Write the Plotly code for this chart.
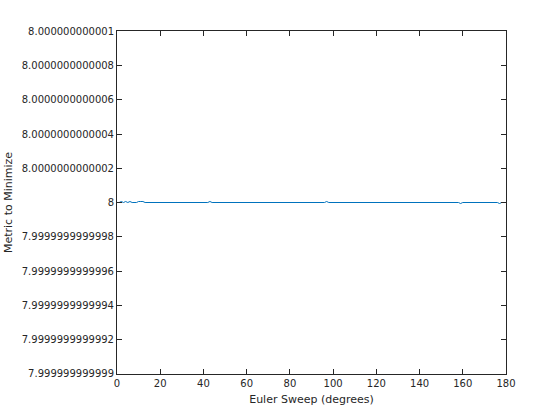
import plotly.graph_objects as go

# Sparse breakpoints of the sweep (degrees) and the metric value at each
sweep_deg = [0, 1, 2, 3, 4, 5, 6, 7, 9, 10, 11, 12, 13, 42, 43, 44, 96, 97, 98,
             158, 159, 160, 176, 177, 178, 180]
metric = [8.0, 8.0, 8.000000000000005, 8.0, 8.000000000000005, 8.0,
          8.000000000000005, 8.0, 8.0, 8.000000000000005, 8.000000000000005,
          8.000000000000005, 8.0, 8.0, 8.000000000000005, 8.0, 8.0,
          8.000000000000005, 8.0, 8.0, 7.999999999999995, 8.0, 8.0,
          7.999999999999995, 8.0, 8.0]

x_ticks = [0, 20, 40, 60, 80, 100, 120, 140, 160, 180]
y_tickvals = [7.999999999999, 7.9999999999992, 7.9999999999994, 7.9999999999996,
              7.9999999999998, 8.0, 8.0000000000002, 8.0000000000004,
              8.0000000000006, 8.0000000000008, 8.000000000001]
y_ticktext = ["7.999999999999", "7.9999999999992", "7.9999999999994",
              "7.9999999999996", "7.9999999999998", "8", "8.0000000000002",
              "8.0000000000004", "8.0000000000006", "8.0000000000008",
              "8.000000000001"]
y_range = [7.999999999998998, 8.000000000001002]

ink = "#262626"
font = dict(family="DejaVu Sans", size=10, color=ink)

fig = go.Figure(go.Scatter(x=sweep_deg, y=metric, mode="lines",
                           line=dict(color="#0072BD", width=1)))

fig.update_layout(
    width=560, height=420,
    margin=dict(l=117, r=54, t=31, b=46),
    paper_bgcolor="white", plot_bgcolor="white",
    showlegend=False, font=font,
)
fig.update_xaxes(
    range=[0, 180], tickvals=x_ticks, ticks="inside", ticklen=5,
    tickcolor=ink, showline=True, linecolor=ink, linewidth=1, mirror="ticks",
    showgrid=False, zeroline=False, tickfont=font, automargin=False,
    title=dict(text="Euler Sweep (degrees)", font=dict(family="DejaVu Sans", size=11, color=ink), standoff=7),
)
fig.update_yaxes(
    range=y_range, tickvals=y_tickvals, ticktext=y_ticktext,
    ticks="inside", ticklen=5, tickcolor=ink, showline=True, linecolor=ink,
    linewidth=1, mirror="ticks", showgrid=False, zeroline=False, tickfont=font,
    automargin=False,
    title=dict(text="Metric to Minimize", font=dict(family="DejaVu Sans", size=11, color=ink), standoff=6),
)

fig.write_html("out.html", config={"displayModeBar": False},
               post_script="document.body.style.margin='0';")
